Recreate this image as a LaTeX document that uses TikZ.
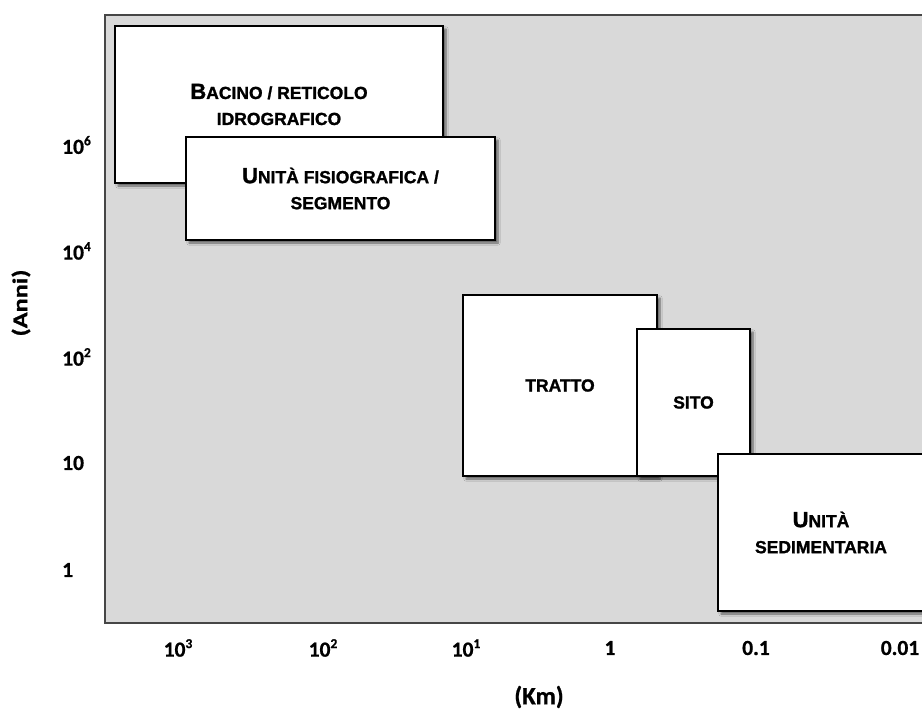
\documentclass[tikz,border=0pt]{standalone}
\usepackage{fontspec}
\setmainfont{Liberation Sans}[BoldFeatures={FakeBold=1.3}]
\newfontfamily\labfont{Carlito}[BoldFeatures={FakeBold=0.8}]
\usetikzlibrary{shadows.blur}

\definecolor{plotgray}{RGB}{217,217,217}
\definecolor{framegray}{RGB}{70,70,70}

% small-caps look: a full-size initial followed by smaller capitals
\newcommand{\bigini}[1]{{\fontsize{22}{26}\selectfont #1}}
\newcommand{\boxfnt}{\fontsize{17.5}{26}\selectfont\bfseries}
\newcommand{\tickfnt}{\labfont\fontsize{21.5}{22}\selectfont\bfseries}
\newcommand{\expo}[1]{\raisebox{0.4em}{\fontsize{13.5}{14}\selectfont #1}}

\tikzset{
  panel/.style={fill=plotgray, draw=framegray, line width=1.1pt},
  scalebox/.style={draw=black, line width=1.6pt, fill=white, inner sep=0pt,
    align=center, font=\boxfnt,
    blur shadow={shadow xshift=3pt, shadow yshift=-3pt, shadow blur steps=6,
      shadow opacity=55}},
  ytick/.style={anchor=west, font=\tickfnt, inner sep=0pt},
  xtick/.style={anchor=center, font=\tickfnt, inner sep=0pt},
  axislabel/.style={font=\labfont\bfseries, inner sep=0pt}
}

\begin{document}
\begin{tikzpicture}[x=1pt, y=-1pt]
  \useasboundingbox (0,0) rectangle (922,709);

  % plotting area
  \draw[panel] (105,15) rectangle (935,623);

  % scale boxes
  \node[scalebox, minimum width=328pt, minimum height=157pt] (bacino) at (279,104.5)
    {\bigini{B}ACINO / RETICOLO\\IDROGRAFICO};
  \node[scalebox, minimum width=309pt, minimum height=103pt] (unifis) at (340.5,188.5)
    {\bigini{U}NITÀ FISIOGRAFICA /\\SEGMENTO};
  \node[scalebox, minimum width=194pt, minimum height=181pt] (tratto) at (560,385.5)
    {TRATTO};
  \node[scalebox, minimum width=113pt, minimum height=147pt] (sito) at (693.5,402.5)
    {SITO};
  \node[scalebox, minimum width=206pt, minimum height=157pt] (unised) at (821,532.5)
    {\bigini{U}NITÀ\\SEDIMENTARIA};

  % vertical axis (years)
  \node[ytick] (y6) at (62,145) {10\expo{6}};
  \node[ytick] (y4) at (62,251) {10\expo{4}};
  \node[ytick] (y2) at (62,357) {10\expo{2}};
  \node[ytick] (y1) at (62,463) {10};
  \node[ytick] (y0) at (62,570) {1};
  \node[axislabel, rotate=90] (anni) at (21,303)
    {\scalebox{1.25}[1]{\fontsize{21}{22}\selectfont(Anni)}};

  % horizontal axis (km)
  \node[xtick] (x3) at (178,648) {10\expo{3}};
  \node[xtick] (x2) at (323,648) {10\expo{2}};
  \node[xtick] (x1) at (466,648) {10\expo{1}};
  \node[xtick] (x0) at (610,648) {1};
  \node[xtick] (xm1) at (756,648) {0.1};
  \node[xtick] (xm2) at (900,648) {0.01};
  \node[axislabel] (km) at (539,697) {\fontsize{25}{26}\selectfont(Km)};
\end{tikzpicture}
\end{document}
